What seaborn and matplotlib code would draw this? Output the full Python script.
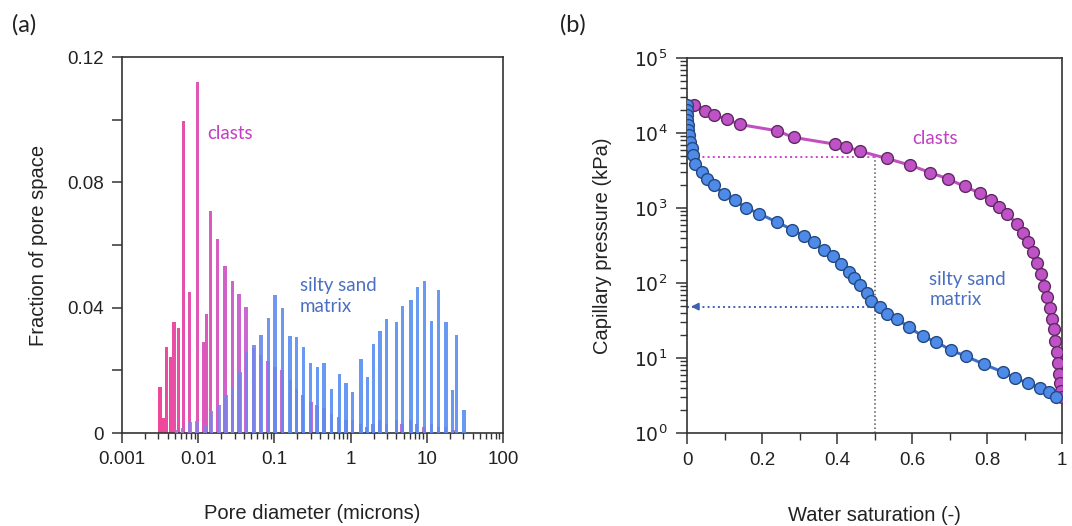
import numpy as np
import matplotlib
matplotlib.use("Agg")
import matplotlib.pyplot as plt
import matplotlib.ticker as mticker
from matplotlib.colors import to_rgb
import seaborn as sns

# (a) pore size distribution: diameter (microns) and fraction of pore space
clast_d = [0.00315, 0.00348, 0.00386, 0.00436, 0.00481, 0.00548, 0.00637, 0.00764, 0.00973,
           0.01167, 0.01294, 0.01459, 0.01803, 0.02248, 0.02801, 0.03428, 0.0424, 0.0537,
           0.0665, 0.0825, 0.1017, 0.1257, 0.1608, 0.1968, 0.2365, 0.302, 0.363, 0.447,
           0.568, 0.70, 0.87, 1.07, 1.36, 1.62, 1.97, 2.42, 2.99, 4.05, 4.73, 6.16, 7.4,
           9.2, 11.6, 14.3, 17.8, 22.1]
clast_f = [0.0148, 0.0048, 0.0276, 0.0244, 0.0355, 0.0336, 0.0997, 0.045, 0.112, 0.029,
           0.038, 0.0708, 0.062, 0.0533, 0.0486, 0.0444, 0.0403, 0.027, 0.025, 0.023, 0.021,
           0.020, 0.017, 0.014, 0.012, 0.010, 0.009, 0.008, 0.006, 0.005, 0.004, 0.004,
           0.003, 0.002, 0.003, 0.004, 0.003, 0.004, 0.003, 0.004, 0.003, 0.002, 0.003,
           0.002, 0.002, 0.001]

matrix_d = [0.00522, 0.00626, 0.0078, 0.00964, 0.01228, 0.01504, 0.01875, 0.02317, 0.02838,
            0.0354, 0.04329, 0.054, 0.0667, 0.0832, 0.1018, 0.127, 0.1602, 0.1963, 0.2395,
            0.2994, 0.3656, 0.4478, 0.5649, 0.7109, 0.871, 1.066, 1.369, 1.656, 1.986,
            2.432, 2.978, 4.03, 4.77, 6.2, 7.5, 9.27, 11.59, 14.32, 17.86, 21.9, 24.7, 30.8]
matrix_f = [0.001, 0.0016, 0.0034, 0.0039, 0.0026, 0.0069, 0.009, 0.0122, 0.0148, 0.0194,
            0.0259, 0.028, 0.0312, 0.0368, 0.0441, 0.040, 0.031, 0.0307, 0.0273, 0.0225,
            0.0212, 0.0222, 0.0141, 0.0187, 0.0161, 0.013, 0.0236, 0.018, 0.0283, 0.0326,
            0.0365, 0.0355, 0.0405, 0.0423, 0.0466, 0.0484, 0.0357, 0.0458, 0.0355, 0.0138,
            0.0314, 0.0072]

# (b) capillary pressure curves: water saturation (-) and pressure (kPa)
clast_sw = [0.018, 0.049, 0.071, 0.107, 0.140, 0.240, 0.284, 0.394, 0.424, 0.462, 0.533,
            0.595, 0.649, 0.697, 0.740, 0.782, 0.810, 0.831, 0.853, 0.880, 0.895, 0.910,
            0.922, 0.933, 0.943, 0.952, 0.960, 0.967, 0.973, 0.978, 0.982, 0.986, 0.989,
            0.992, 0.995, 0.997, 0.999]
clast_pc = [23700, 19700, 17400, 15200, 13000, 10700, 8730, 7100, 6550, 5710, 4570, 3720,
            2960, 2430, 1940, 1570, 1260, 1030, 836, 614, 470, 350, 260, 185, 130, 92, 65,
            46, 33, 24, 17, 12, 8.5, 6.2, 4.6, 3.6, 3.0]

matrix_sw = [0.000, 0.000, 0.000, 0.001, 0.002, 0.003, 0.006, 0.009, 0.012, 0.016, 0.022,
             0.040, 0.053, 0.071, 0.098, 0.127, 0.158, 0.193, 0.240, 0.280, 0.311, 0.338,
             0.364, 0.388, 0.411, 0.431, 0.444, 0.462, 0.480, 0.491, 0.515, 0.533, 0.560,
             0.591, 0.628, 0.664, 0.704, 0.745, 0.793, 0.842, 0.875, 0.910, 0.940, 0.965,
             0.985]
matrix_pc = [23700, 20300, 17400, 14900, 12800, 11000, 9380, 7640, 6310, 5060, 3800, 3030,
             2460, 2000, 1550, 1260, 1000, 836, 647, 515, 427, 350, 275, 226, 178, 141, 115,
             93, 74, 58, 48, 39, 33, 26, 19.5, 16.4, 12.7, 10.5, 8.2, 6.5, 5.4, 4.6, 4.0,
             3.5, 3.0]

sw_mark = 0.5
pc_clast_mark = 4810
pc_matrix_mark = 48.4


def mix(c1, c2, t):
    a, b = np.array(to_rgb(c1)), np.array(to_rgb(c2))
    return tuple(a + (b - a) * t)


def grad(d, c1, c2, lo, hi):
    t = np.clip((np.log10(d) - np.log10(lo)) / (np.log10(hi) - np.log10(lo)), 0, 1)
    return [mix(c1, c2, v) for v in t]


sns.set_theme(style="ticks")
plt.rcParams["font.family"] = ["Liberation Sans", "DejaVu Sans"]
plt.rcParams["axes.edgecolor"] = "#333333"
plt.rcParams["axes.linewidth"] = 1.2
plt.rcParams["xtick.color"] = "#333333"
plt.rcParams["ytick.color"] = "#333333"
plt.rcParams["xtick.labelcolor"] = "#222222"
plt.rcParams["ytick.labelcolor"] = "#222222"

fig = plt.figure(figsize=(10.72, 5.26), dpi=100)
ax1 = fig.add_axes([0.1138, 0.1768, 0.3554, 0.7148])
ax2 = fig.add_axes([0.6409, 0.1768, 0.3498, 0.713])

# ---- panel (a)
hw = 0.021
cd = np.array(clast_d)
md = np.array(matrix_d)
ax1.bar(cd * 10 ** -hw, clast_f, width=cd * (10 ** hw - 10 ** -hw), align="edge",
        color=grad(cd, "#F0479A", "#C86AD8", 0.003, 0.05), linewidth=0, zorder=2)
ax1.bar(md * 10 ** -hw, matrix_f, width=md * (10 ** hw - 10 ** -hw), align="edge",
        color=grad(md, "#A674DC", "#5A8EF0", 0.004, 0.15), alpha=0.9, linewidth=0, zorder=3)
ax1.set_xscale("log")
ax1.set_xlim(0.001, 100)
ax1.set_ylim(0, 0.12)
ax1.set_xticks([0.001, 0.01, 0.1, 1, 10, 100])
ax1.set_xticklabels(["0.001", "0.01", "0.1", "1", "10", "100"])
ax1.xaxis.set_minor_locator(mticker.LogLocator(base=10, subs=np.arange(2, 10), numticks=20))
ax1.xaxis.set_minor_formatter(mticker.NullFormatter())
ax1.set_yticks([0, 0.04, 0.08, 0.12])
ax1.set_yticklabels(["0", "0.04", "0.08", "0.12"])
ax1.yaxis.set_minor_locator(mticker.MultipleLocator(0.02))
ax1.tick_params(which="major", length=7, width=1.1, labelsize=13.5, pad=6)
ax1.tick_params(axis="y", which="minor", length=7, width=1.1)
ax1.tick_params(axis="x", which="minor", length=4, width=1.0)
ax1.set_xlabel("Pore diameter (microns)", fontsize=14.5, labelpad=26, color="#222222")
ax1.set_ylabel("Fraction of pore space", fontsize=14.5, labelpad=14, color="#222222")
ax1.text(0.0131, 0.0955, "clasts", color="#C23FC2", fontsize=13.5, family=["Lato", "DejaVu Sans"],
         va="center")
ax1.text(0.217, 0.0438, "silty sand\nmatrix", color="#4A6FC2", fontsize=13.5,
         family=["Lato", "DejaVu Sans"], va="center", linespacing=1.25)

# ---- panel (b)
ax2.plot([0, sw_mark], [pc_clast_mark, pc_clast_mark], ls=":", color="#D040D0", lw=1.4, zorder=1)
ax2.plot([0, sw_mark], [pc_matrix_mark, pc_matrix_mark], ls=":", color="#3D62B0", lw=1.4, zorder=1)
ax2.plot([sw_mark, sw_mark], [1, pc_clast_mark], ls=":", color="#555555", lw=1.1, zorder=1)
ax2.annotate("", xy=(0.003, pc_clast_mark), xytext=(0.03, pc_clast_mark),
             arrowprops=dict(arrowstyle="-|>", color="#C030C0", lw=1.2, mutation_scale=11))
ax2.annotate("", xy=(0.003, pc_matrix_mark), xytext=(0.03, pc_matrix_mark),
             arrowprops=dict(arrowstyle="-|>", color="#3D62B0", lw=1.2, mutation_scale=11))

sns.lineplot(x=clast_sw, y=clast_pc, ax=ax2, sort=False, estimator=None, color="#C050C0",
             lw=2.2, marker="o", markersize=8.5, markerfacecolor="#C052C8",
             markeredgecolor="#5E2A60", markeredgewidth=1.0, zorder=3)
sns.lineplot(x=matrix_sw, y=matrix_pc, ax=ax2, sort=False, estimator=None, color="#3D6FC8",
             lw=2.2, marker="o", markersize=8.5, markerfacecolor="#4E8AE8",
             markeredgecolor="#24487F", markeredgewidth=1.0, zorder=4)
ax2.set_yscale("log")
ax2.set_ylim(1, 1e5)
ax2.set_xlim(0, 1)
ax2.set_xticks([0, 0.2, 0.4, 0.6, 0.8, 1.0])
ax2.set_xticklabels(["0", "0.2", "0.4", "0.6", "0.8", "1"])
ax2.xaxis.set_minor_locator(mticker.MultipleLocator(0.1))
ax2.set_yticks([1, 10, 100, 1000, 1e4, 1e5])
ax2.set_yticklabels([r"$10^{0}$", r"$10^{1}$", r"$10^{2}$", r"$10^{3}$", r"$10^{4}$", r"$10^{5}$"])
ax2.yaxis.set_minor_locator(mticker.LogLocator(base=10, subs=np.arange(2, 10), numticks=20))
ax2.yaxis.set_minor_formatter(mticker.NullFormatter())
ax2.tick_params(which="major", length=8, width=1.1, labelsize=13.5, pad=6)
ax2.tick_params(which="minor", length=5, width=1.0)
ax2.set_xlabel("Water saturation (-)", fontsize=14.5, labelpad=26, color="#222222")
ax2.set_ylabel("Capillary pressure (kPa)", fontsize=14.5, labelpad=16, color="#222222")
ax2.text(0.60, 8500, "clasts", color="#C23FC2", fontsize=13.5, family=["Lato", "DejaVu Sans"],
         va="center")
ax2.text(0.646, 82, "silty sand\nmatrix", color="#4A6FC2", fontsize=13.5,
         family=["Lato", "DejaVu Sans"], va="center", linespacing=1.25)

fig.text(0.011, 0.953, "(a)", fontsize=17, family=["Lato", "DejaVu Sans"], color="#222222",
         va="center")
fig.text(0.522, 0.953, "(b)", fontsize=17, family=["Lato", "DejaVu Sans"], color="#222222",
         va="center")

fig.savefig("out.png", dpi=100)
